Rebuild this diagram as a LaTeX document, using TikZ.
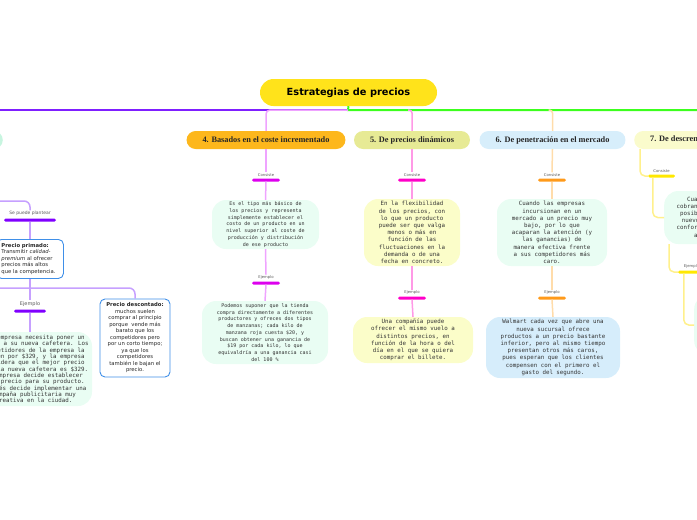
\documentclass[tikz,border=0pt]{standalone}
\usepackage{fontspec}
\setmainfont{DejaVu Sans}
\newfontfamily\monof{DejaVu Sans Mono}
\newfontfamily\headf{Liberation Serif}
\usetikzlibrary{positioning}
\definecolor{tYellow}{HTML}{FFE31B}
\definecolor{mPurple}{HTML}{7F1FFF}
\definecolor{mGreen}{HTML}{3CFF1E}
\definecolor{lPurple}{HTML}{C6A0FF}
\definecolor{bPurple}{HTML}{8000FF}
\definecolor{lMagenta}{HTML}{EFA3FF}
\definecolor{bMagenta}{HTML}{DD00EE}
\definecolor{lPink}{HTML}{FF99E6}
\definecolor{bPink}{HTML}{FF00C8}
\definecolor{lOrange}{HTML}{FFDCAA}
\definecolor{bOrange}{HTML}{FF9A1A}
\definecolor{lYellow}{HTML}{FFF08C}
\definecolor{bYellow}{HTML}{FFE800}
\definecolor{hOrange}{HTML}{FDB71C}
\definecolor{hOlive}{HTML}{E7EA95}
\definecolor{hBlue}{HTML}{D7EEFB}
\definecolor{hCream}{HTML}{FAFBCC}
\definecolor{hMint}{HTML}{C8F5E0}
\definecolor{fMint}{HTML}{E9FDF3}
\definecolor{fCream}{HTML}{FBFDC9}
\definecolor{fBlue}{HTML}{D6EDFB}
\definecolor{boxBlue}{HTML}{3F8FE8}
\tikzset{
  title/.style={fill=tYellow, rounded corners=13.5pt, minimum width=177pt, minimum height=27pt,
    font=\bfseries\fontsize{9.8}{11}\selectfont},
  head/.style={rounded corners=9pt, minimum height=18pt, inner xsep=16pt, inner ysep=0pt,
    font=\headf\bfseries\fontsize{8.3}{9}\selectfont, text=black!85},
  note/.style={rounded corners=14pt, align=center, inner sep=0pt, text=black!80},
  small/.style={font=\monof\fontsize{5}{6.7}\selectfont},
  big/.style={font=\monof\fontsize{5.8}{7.2}\selectfont},
  tag/.style={font=\fontsize{3.8}{4}\selectfont, text=black!65, inner sep=0.8pt},
  bar/.style={minimum width=28pt, minimum height=3pt, inner sep=0pt, rounded corners=1.5pt},
  pbox/.style={draw=boxBlue, line width=0.9pt, fill=white, rounded corners=5pt, inner sep=0pt,
    font=\fontsize{5.3}{6.5}\selectfont, text=black!85},
  con/.style={line width=1.5pt}
}
\begin{document}
\begin{tikzpicture}[x=1pt, y=-1pt]
\useasboundingbox (0,0) rectangle (697,520);

% centre and main branches
\node[title] (title) at (348.5,92.5) {Estrategias de precios};
\coordinate (hub) at (348,110);
\coordinate (endL) at (-10,110);
\coordinate (endR) at (710,110);
\draw[mPurple, line width=2pt] (hub) -- (endL);
\draw[mGreen, line width=2pt] (title.south) -- (hub) -- (endR);

% headers
\node[head, fill=hMint, minimum width=60pt, anchor=east] (h3) at (3,140) {};
\node[head, fill=hOrange] (h4) at (266,140) {4. Basados en el coste incrementado};
\node[head, fill=hOlive] (h5) at (412,140) {5. De precios dinámicos};
\node[head, fill=hBlue] (h6) at (552.5,140) {6. De penetración en el mercado};
\node[head, fill=hCream, anchor=west] (h7) at (634,140) {7. De descremado de precios};

% column 3
\node[bar, fill=bPurple, minimum width=52pt] (k3a) at (30,220) {};
\node[tag, font=\fontsize{4.5}{5}\selectfont, above=1.5pt of k3a] (l3a) {Se puede plantear};
\node[pbox, align=left, text width=57pt, inner xsep=5pt, minimum height=39pt, anchor=north west] (p3) at (-4,239)
  {\textbf{Precio primado:}\\Transmitir \textit{calidad-}\\
  \textit{premium} al ofrecer\\precios más altos\\que la competencia.};
\node[pbox, align=center, minimum width=70pt, minimum height=78pt] (d3) at (135,338)
  {\textbf{Precio descontado:}\\muchos suelen\\comprar al principio\\porque\ \ vende más\\barato que los\\
  competidores pero\\por un corto tiempo;\\ya que los\\competidores\\también le bajan el\\precio.};
\node[bar, fill=bPurple, minimum width=32pt] (k3b) at (30,311) {};
\node[tag, font=\fontsize{5}{6}\selectfont, above=2pt of k3b] (l3b) {Ejemplo};
\node[note, fill=fMint, font=\monof\fontsize{5.8}{6.3}\selectfont, minimum width=116pt, minimum height=74pt] (e3) at (34,369)
  {Una empresa necesita poner un\\precio a su nueva cafetera. Los\\competidores de la empresa la\\
  venden por \$329, y la empresa\\considera que el mejor precio\\para la nueva cafetera es \$329.\\
  La empresa decide establecer\\este precio para su producto.\\Después decide implementar una\\
  campaña publicitaria muy\\creativa en la ciudad.};
\coordinate (j3) at (30,201);
\coordinate (j3b) at (-10,288);
\draw[con, lPurple, rounded corners=6pt] (h3.south) |- (j3) -- (l3a.north);
\draw[con, lPurple] (k3a.south) -- (p3.north -| k3a);
\draw[con, lPurple] (p3.south -| k3a) -- (l3b.north);
\draw[con, lPurple] (k3b.south) -- (e3.north -| k3b);
\draw[con, lPurple, rounded corners=6pt] (j3b) -| (d3.north);

% column 4
\node[bar, fill=bMagenta] (k4a) at (266,180) {};
\node[tag, above=1pt of k4a] (l4a) {Consiste};
\node[note, small, fill=fMint, minimum width=107pt, minimum height=49pt] (b4a) at (265.5,224.5)
  {Es el tipo más básico de\\los precios y representa\\simplemente establecer el\\costo de un producto en un\\
  nivel superior al coste de\\producción y distribución\\de ese producto};
\node[bar, fill=bMagenta] (k4b) at (266,283) {};
\node[tag, above=1pt of k4b] (l4b) {Ejemplo};
\node[note, small, fill=fMint, minimum width=126pt, minimum height=63pt] (b4b) at (265,332.5)
  {Podemos suponer que la tienda\\compra directamente a diferentes\\productores y ofreces dos tipos\\
  de manzanas; cada kilo de\\manzana roja cuesta \$20, y\\buscan obtener una ganancia de\\
  \$19 por cada kilo, lo que\\equivaldría a una ganancia casi\\del 100 \%};
\draw[con, lMagenta, rounded corners=4pt] (hub) -| (h4.north);
\draw[con, lMagenta] (h4.south) -- (l4a.north);
\draw[con, lMagenta] (k4a.south) -- (b4a.north);
\draw[con, lMagenta] (b4a.south) -- (l4b.north);
\draw[con, lMagenta] (k4b.south) -- (b4b.north);

% column 5
\node[bar, fill=bPink] (k5a) at (412,180) {};
\node[tag, above=1pt of k5a] (l5a) {Consiste};
\node[note, big, fill=fCream, minimum width=96pt, minimum height=67pt] (b5a) at (412,232.5)
  {En la flexibilidad\\de los precios, con\\lo que un producto\\puede ser que valga\\menos o más en\\
  función de las\\fluctuaciones en la\\demanda o de una\\fecha en concreto.};
\node[bar, fill=bPink] (k5b) at (412,298) {};
\node[tag, above=1pt of k5b] (l5b) {Ejemplo};
\node[note, big, fill=fCream, minimum width=120pt, minimum height=46pt] (b5b) at (413,340)
  {Una compañía puede\\ofrecer el mismo vuelo a\\distintos precios, en\\función de la hora o del\\
  día en el que se quiera\\comprar el billete.};
\draw[con, lPink, rounded corners=3pt] ([xshift=-4pt]h5.north |- hub) -| (h5.north);
\draw[con, lPink] (h5.south) -- (l5a.north);
\draw[con, lPink] (k5a.south) -- (b5a.north);
\draw[con, lPink] (b5a.south) -- (l5b.north);
\draw[con, lPink] (k5b.south) -- (b5b.north);

% column 6
\node[bar, fill=bOrange] (k6a) at (552,180) {};
\node[tag, above=1pt of k6a] (l6a) {Consiste};
\node[note, big, fill=fMint, minimum width=110pt, minimum height=67pt] (b6a) at (552,232.5)
  {Cuando las empresas\\incursionan en un\\mercado a un precio muy\\bajo, por lo que\\
  acaparan la atención (y\\las ganancias) de\\manera efectiva frente\\a sus competidores más\\caro.};
\node[bar, fill=bOrange] (k6b) at (552,298) {};
\node[tag, above=1pt of k6b] (l6b) {Ejemplo};
\node[note, big, fill=fBlue, minimum width=134pt, minimum height=61pt] (b6b) at (553,347.5)
  {Walmart cada vez que abre una\\nueva sucursal ofrece\\productos a un precio bastante\\
  inferior, pero al mismo tiempo\\presentan otros más caros,\\pues esperan que los clientes\\
  compensen con el primero el\\gasto del segundo.};
\draw[con, lOrange, rounded corners=3pt] ([xshift=-4pt]h6.north |- hub) -| (h6.north);
\draw[con, lOrange] (h6.south) -- (l6a.north);
\draw[con, lOrange] (k6a.south) -- (b6a.north);
\draw[con, lOrange] (b6a.south) -- (l6b.north);
\draw[con, lOrange] (k6b.south) -- (b6b.north);

% column 7
\node[bar, fill=bYellow, minimum width=27pt] (k7a) at (661.5,176) {};
\node[tag, above=1pt of k7a] (l7a) {Consiste};
\node[note, big, fill=fMint, minimum width=112pt, minimum height=53pt, anchor=west] (b7a) at (664,217.5)
  {Cuando las empresas\\cobran el precio más alto\\posible por un producto\\nuevo y lo van bajando\\
  conforme avanza el tiempo\\a ese producto.};
\node[bar, fill=bYellow, minimum width=27pt] (k7b) at (691.5,272) {};
\node[tag, above=1pt of k7b] (l7b) {Ejemplo};
\node[note, fill=fMint, minimum width=110pt, minimum height=60pt, anchor=west] (b7b) at (694,325) {};
\draw[con, lYellow, rounded corners=5pt] ([xshift=6pt]h7.south west) |- (k7a.west);
\draw[con, lYellow, rounded corners=5pt] ([xshift=5pt]k7a.south west) |- (b7a.west);
\draw[con, lYellow, rounded corners=5pt] ([xshift=5pt]b7a.south west) |- (k7b.west);
\draw[con, lYellow, rounded corners=5pt] ([xshift=6pt]k7b.south west) |- (b7b.west);
\end{tikzpicture}
\end{document}
